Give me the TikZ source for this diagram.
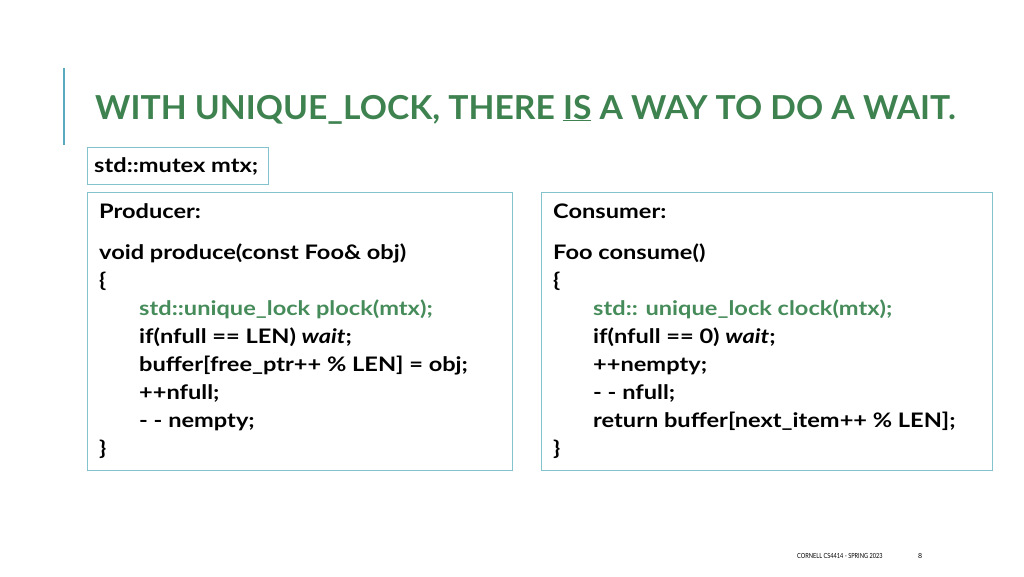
\documentclass[tikz,border=0pt]{standalone}
\usepackage{fontspec}
\setmainfont{Lato}
\begin{document}
\begin{tikzpicture}[x=1pt,y=-1pt,
  txt/.style={anchor=base west,inner sep=0pt,font=\fontsize{20}{22}\selectfont\bfseries\addfontfeatures{FakeStretch=1.18}},
  grn/.style={txt,text=codegreen},
  box/.style={draw=boxline,line width=0.8pt}]
\definecolor{titlegreen}{RGB}{62,130,80}
\definecolor{codegreen}{RGB}{70,140,90}
\definecolor{boxline}{RGB}{130,195,205}
\definecolor{barcol}{RGB}{90,170,190}
\useasboundingbox (0,0) rectangle (1024,576);
\draw[barcol,line width=1.5pt] (64,68) -- (64,145);
\node[anchor=base west,inner sep=0pt,text=titlegreen,font=\fontsize{33}{36}\selectfont\bfseries\addfontfeatures{FakeStretch=1.02}] (title) at (95,119) {WITH UNIQUE\_LOCK, THERE \underline{IS} A WAY TO DO A WAIT.};
\draw[box] (87,147) rectangle (268,184);
\node[txt] (mtx) at (94,172) {std::mutex mtx;};
\draw[box] (87,192) rectangle (512,470);
\draw[box] (541,192) rectangle (992,470);
\node[txt] (p0) at (99,218) {Producer:};
\node[txt] (p1) at (99,259) {void produce(const Foo\& obj)};
\node[txt] (p2) at (99,287) {\{};
\node[grn] (p3) at (139,315) {std::unique\_lock plock(mtx);};
\node[txt] (p4) at (139,343) {if(nfull == LEN) \textit{wait};};
\node[txt] (p5) at (139,371) {buffer[free\_ptr++ \% LEN] = obj;};
\node[txt] (p6) at (139,399) {++nfull;};
\node[txt] (p7) at (139,427) {- - nempty;};
\node[txt] (p8) at (99,455) {\}};
\node[txt] (c0) at (553,218) {Consumer:};
\node[txt] (c1) at (553,259) {Foo consume()};
\node[txt] (c2) at (553,287) {\{};
\node[grn] (c3) at (593,315) {std:: unique\_lock clock(mtx);};
\node[txt] (c4) at (593,343) {if(nfull == 0) \textit{wait};};
\node[txt] (c5) at (593,371) {++nempty;};
\node[txt] (c6) at (593,399) {- - nfull;};
\node[txt] (c7) at (593,427) {return buffer[next\_item++ \% LEN];};
\node[txt] (c8) at (553,455) {\}};
\node[anchor=base west,inner sep=0pt,font=\fontsize{7}{8}\selectfont\addfontfeatures{FakeStretch=0.8}] (foot) at (797,558) {CORNELL CS4414 - SPRING 2023};
\node[anchor=base west,inner sep=0pt,font=\fontsize{7}{8}\selectfont] (pg) at (918,558) {8};
\end{tikzpicture}
\end{document}
